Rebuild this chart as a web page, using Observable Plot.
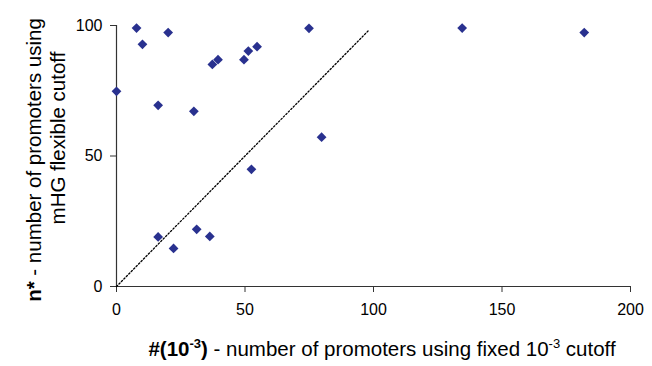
<!DOCTYPE html>
<html>
<head>
<meta charset="utf-8">
<script src="https://cdn.jsdelivr.net/npm/d3@7"></script>
<script src="https://cdn.jsdelivr.net/npm/@observablehq/plot@0.6"></script>
<style>
  html, body { margin: 0; padding: 0; background: #fff; }
  #chart svg { display: block; }
</style>
</head>
<body>
<div id="chart"></div>
<script>
// #(10^-3): number of promoters using fixed 10^-3 cutoff
const fixedCutoff = [0, 7.8, 10.1, 20.1, 16.2, 30.1, 37.3, 39.5, 49.6, 51.3, 54.7, 74.9, 79.8, 52.5, 16.2, 22.2, 31.2, 36.3, 134.5, 182];
// n*: number of promoters using mHG flexible cutoff
const flexibleCutoff = [74.8, 99.0, 92.8, 97.3, 69.4, 67.1, 85.1, 86.9, 86.9, 90.2, 91.9, 98.9, 57.2, 44.9, 19.0, 14.6, 21.9, 19.2, 99.0, 97.3];
// y = x reference line
const diagonal = [0, 98];
const xTicks = [0, 50, 100, 150, 200];
const yTicks = [0, 50, 100];

const points = fixedCutoff.map((x, i) => ({x, y: flexibleCutoff[i]}));
const diag = diagonal.map(v => ({x: v, y: v}));

const font = "'Liberation Sans', Arial, sans-serif";
const axisColor = "#333";

const plot = Plot.plot({
  width: 652,
  height: 366,
  marginLeft: 116,
  marginRight: 22,
  marginTop: 25,
  marginBottom: 80,
  style: {fontFamily: font, fontSize: "16px", background: "#fff", color: "#000"},
  x: {domain: [0, 200]},
  y: {domain: [0, 100]},
  marks: [
    Plot.axisX({ticks: xTicks, tickSize: 6, tickPadding: 11, label: null, stroke: axisColor, fontSize: 16}),
    Plot.axisY({ticks: yTicks, tickSize: 6, tickPadding: 8, label: null, stroke: axisColor, fontSize: 16}),
    Plot.ruleX([0], {stroke: axisColor, strokeWidth: 1.2}),
    Plot.ruleY([0], {stroke: axisColor, strokeWidth: 1.2}),
    Plot.line(diag, {x: "x", y: "y", stroke: "#000", strokeWidth: 1.3, strokeDasharray: "1.5,2"}),
    Plot.dot(points, {x: "x", y: "y", symbol: "diamond2", r: 4.4, fill: "#29318f", stroke: "none"})
  ]
});

const svg = d3.select(plot);
// x-axis title
const xt = svg.append("text")
  .attr("x", 382).attr("y", 356)
  .attr("text-anchor", "middle")
  .attr("font-family", font).attr("font-size", 20.5).attr("fill", "#000");
xt.append("tspan").attr("font-weight", "bold").text("#(10");
xt.append("tspan").attr("font-weight", "bold").attr("font-size", 13).attr("dy", -8).text("-3");
xt.append("tspan").attr("font-weight", "bold").attr("dy", 8).text(")");
xt.append("tspan").text(" - number of promoters using fixed 10");
xt.append("tspan").attr("font-size", 13).attr("dy", -8).text("-3");
xt.append("tspan").attr("dy", 8).text(" cutoff");

// y-axis title (two lines)
const yt = svg.append("text")
  .attr("transform", "translate(41,160) rotate(-90)")
  .attr("text-anchor", "middle")
  .attr("font-family", font).attr("font-size", 20.5).attr("fill", "#000");
yt.append("tspan").attr("font-weight", "bold").text("n*");
yt.append("tspan").text(" - number of promoters using");
svg.append("text")
  .attr("transform", "translate(65,138) rotate(-90)")
  .attr("text-anchor", "middle")
  .attr("font-family", font).attr("font-size", 20.5).attr("fill", "#000")
  .text("mHG flexible cutoff");

document.getElementById("chart").appendChild(plot);
</script>
</body>
</html>
